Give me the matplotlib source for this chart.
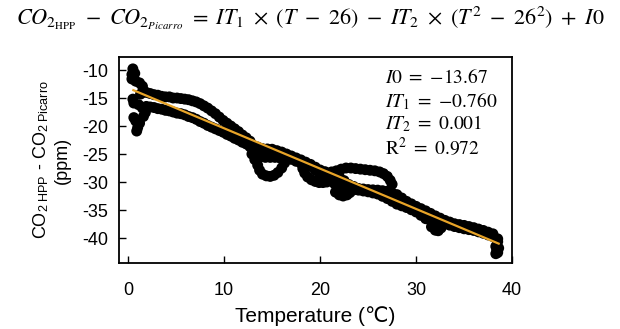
import numpy as np
import matplotlib
matplotlib.use("Agg")
import matplotlib.pyplot as plt

plt.rcParams['axes.unicode_minus'] = False
plt.rcParams['mathtext.fontset'] = 'stix'
SANS = ['Liberation Sans', 'DejaVu Sans']

# ---- data ----
start_T = [0.5, 0.7, 0.4, 0.8, 1.2, 1.5, 1.6, 1.3, 0.5, 0.6, 1.1, 1.5, 1.8, 1.6, 0.6, 0.8, 1.2, 1.0, 0.9, 0.4]
start_y = [-9.8, -10.6, -11.6, -12.0, -12.3, -12.9, -13.7, -14.3, -15.2, -15.9, -16.2, -16.8, -17.6, -18.3, -18.5, -19.1, -19.5, -20.3, -20.9, -10.8]

branch_T = [1.9, 2.3, 2.7, 3.1, 3.5, 3.9, 4.3, 4.7, 5.1, 5.5, 5.9, 6.3, 6.7, 7.1,
            7.5, 7.9, 8.3, 8.7, 9.1, 9.5, 9.9, 10.3, 10.7, 11.1, 11.5, 11.9, 12.3, 12.7]
upper_y = [-14.0, -14.2, -14.4, -14.5, -14.7, -14.8, -14.8, -15.0, -15.0, -15.1, -15.2, -15.3, -15.5, -15.7,
           -16.0, -16.4, -16.8, -17.3, -17.8, -18.4, -19.0, -19.5, -20.0, -20.5, -21.0, -21.6, -22.1, -22.7]
lower_y = [-16.5, -16.6, -16.7, -16.9, -17.0, -17.2, -17.3, -17.5, -17.7, -17.8, -18.0, -18.3, -18.5, -18.8,
           -19.2, -19.5, -19.9, -20.2, -20.5, -20.8, -21.1, -21.5, -21.8, -22.2, -22.5, -22.9, -23.2, -23.7]

main_T = [13.0, 13.5, 14.0, 14.5, 15.0, 15.5, 16.0, 16.5, 17.0, 17.5, 18.0, 18.5, 19.0, 19.5, 20.0, 20.5,
          21.0, 21.5, 22.0, 22.5, 23.0, 23.5, 24.0, 24.5, 25.0, 25.5, 26.0, 26.5, 27.0, 27.5, 28.0, 28.5,
          29.0, 29.5, 30.0, 30.5, 31.0, 31.5, 32.0, 32.5, 33.0, 33.5, 34.0, 34.5, 35.0, 35.5, 36.0, 36.5,
          37.0, 37.5, 38.0, 38.5]
main_top_y = [-23.45, -23.75, -24.05, -24.1, -24.15, -24.4, -24.65, -25.0, -25.35, -25.7, -26.05, -26.45,
              -26.85, -27.35, -27.85, -28.15, -28.45, -28.75, -29.05, -29.75, -30.45, -30.8, -31.15, -31.25,
              -31.35, -31.4, -31.45, -31.55, -31.65, -31.95, -32.25, -32.85, -33.45, -33.9, -34.35, -34.75,
              -35.15, -35.6, -36.05, -36.45, -36.85, -37.15, -37.45, -37.6, -37.75, -37.95, -38.15, -38.4,
              -38.65, -38.95, -39.25, -40.15]
main_bot_y = [-23.75, -23.95, -24.15, -24.25, -24.35, -24.65, -24.95, -25.45, -25.95, -26.3, -26.65, -26.9,
              -27.15, -27.9, -28.65, -29.15, -29.65, -30.3, -30.95, -31.15, -31.35, -31.4, -31.45, -31.6,
              -31.75, -31.95, -32.15, -32.55, -32.95, -33.45, -33.95, -34.25, -34.55, -34.95, -35.35, -35.95,
              -36.55, -36.85, -37.15, -37.3, -37.45, -37.7, -37.95, -38.15, -38.35, -38.5, -38.65, -38.9,
              -39.15, -39.45, -39.75, -40.65]

extra_T = [12.9, 13.2, 13.5, 13.7, 14.0, 14.4, 14.8, 15.2, 15.6, 16.0, 16.3, 15.9, 13.8, 14.3, 14.8, 15.3,
           18.2, 18.4, 18.7, 19.1, 19.5, 19.9, 20.3, 20.7,
           21.6, 22.0, 22.4, 22.8, 23.1,
           21.2, 21.7, 22.2, 22.7, 23.2, 23.7, 24.2, 24.7, 25.2, 25.7, 26.2, 26.6, 27.0, 27.3, 27.5,
           31.6, 32.0, 32.3, 32.6,
           38.3, 38.4, 38.3, 38.5, 38.6]
extra_y = [-25.0, -26.0, -27.0, -27.9, -28.6, -28.9, -29.0, -28.8, -28.3, -27.5, -26.6, -25.8, -25.5, -25.6, -25.6, -25.6,
           -27.6, -28.4, -29.1, -29.6, -29.9, -30.1, -30.1, -30.0,
           -31.8, -32.3, -32.5, -32.3, -31.9,
           -28.2, -28.0, -27.7, -27.5, -27.5, -27.6, -27.7, -27.8, -27.9, -28.0, -28.2, -28.5, -29.0, -29.7, -30.4,
           -38.0, -38.6, -38.7, -38.2,
           -41.5, -42.2, -42.8, -42.6, -41.8]

fit_T = [0.55, 38.6]
fit_y = [-13.6, -41.0]

x_ticks = [0, 10, 20, 30, 40]
y_ticks = [-10, -15, -20, -25, -30, -35, -40]

# ---- figure ----
fig = plt.figure(figsize=(6.2, 3.29), dpi=100)
ax = fig.add_axes([0.192, 0.2006, 0.634, 0.6261])

T_all = np.concatenate([start_T, branch_T, branch_T, main_T, main_T, extra_T])
y_all = np.concatenate([start_y, upper_y, lower_y, main_top_y, main_bot_y, extra_y])
ax.scatter(T_all, y_all, s=62, c='black', edgecolors='none', zorder=2)
ax.plot(fit_T, fit_y, color='#E8A428', lw=1.6, zorder=3)

ax.set_xlim(-0.94, 40)
ax.set_ylim(-44.46, -7.68)
ax.set_xticks(x_ticks)
ax.set_yticks(y_ticks)
ax.tick_params(direction='in', length=5, width=1, labelsize=13)
ax.tick_params(axis='x', pad=14)
ax.tick_params(axis='y', pad=8)
for lab in ax.get_xticklabels() + ax.get_yticklabels():
    lab.set_family(SANS)
for s in ax.spines.values():
    s.set_linewidth(1.3)

ax.set_xlabel('Temperature (℃)', fontsize=15, family=SANS, labelpad=5)
ax.set_ylabel(r'CO$_{\mathregular{2\ HPP}}$ - CO$_{\mathregular{2\ Picarro}}$' + '\n(ppm)',
              fontsize=13, family=SANS, labelpad=8, linespacing=1.25)

ann = [r'$I0\ =\ {-13.67}$', r'$IT_1\ =\ {-0.760}$', r'$IT_2\ =\ 0.001$', r'$\mathrm{R}^2\ =\ 0.972$']
ann_y = [0.900, 0.788, 0.676, 0.562]
for t, yy in zip(ann, ann_y):
    ax.text(0.677, yy, t, transform=ax.transAxes, fontsize=14, va='center', ha='left')

fig.text(0.5, 0.945,
         r'$CO_{2_{\mathrm{HPP}}}\ -\ CO_{2_{Picarro}}\ =\ IT_1\ \times\ (T\ -\ 26)\ -\ IT_2\ \times\ \left(T^2\ -\ 26^2\right)\ +\ I0$',
         fontsize=16, ha='center', va='center')

fig.savefig('out.png', dpi=100)
